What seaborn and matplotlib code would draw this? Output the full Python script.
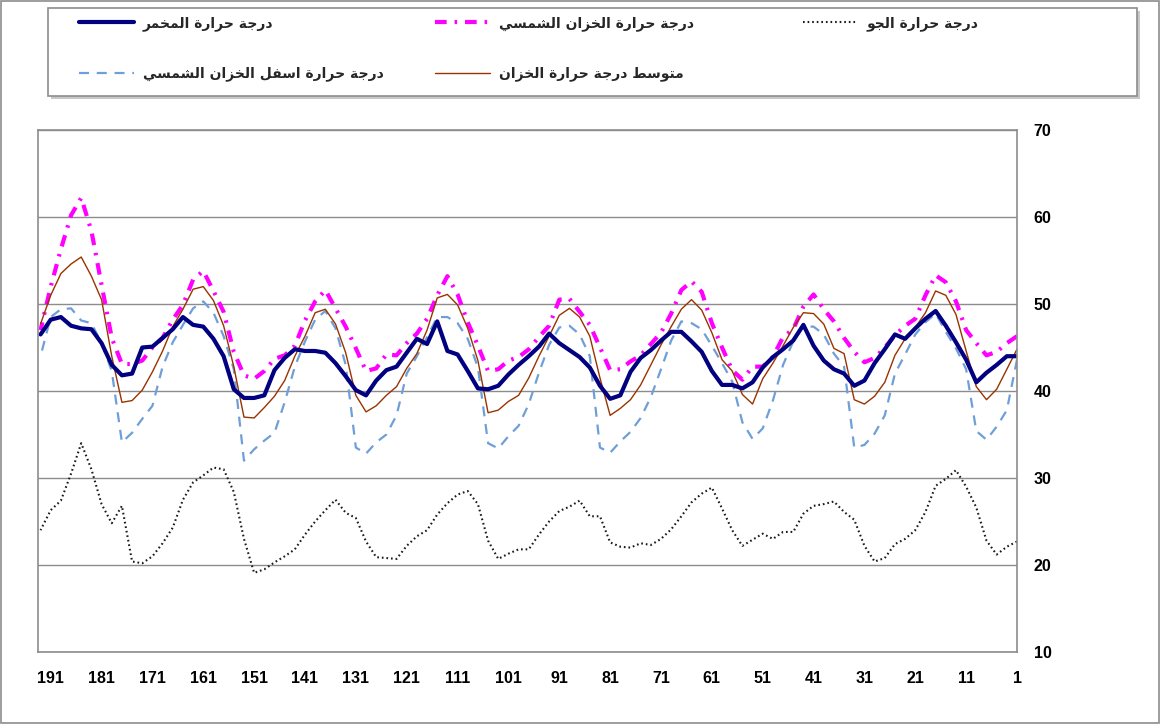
import numpy as np
import pandas as pd
import seaborn as sns
import matplotlib
matplotlib.use("Agg")
import matplotlib.pyplot as plt
from matplotlib.patches import Rectangle

# الايام (من اليسار 193 الى اليمين 1)
days = list(range(193, 0, -2))

t_fermenter = [46.5, 48.2, 48.5, 47.5, 47.2, 47.1, 45.5, 43.0, 41.8, 42.0,
               45.0, 45.1, 46.1, 47.1, 48.5, 47.6, 47.4, 46.0, 44.0, 40.2,
               39.2, 39.2, 39.5, 42.4, 43.8, 44.8, 44.6, 44.6, 44.4, 43.2,
               41.7, 40.1, 39.5, 41.2, 42.4, 42.8, 44.4, 46.0, 45.4, 48.0,
               44.6, 44.2, 42.3, 40.3, 40.2, 40.6, 41.9, 43.0, 44.0, 45.1,
               46.6, 45.5, 44.7, 43.9, 42.7, 40.6, 39.1, 39.5, 42.2, 43.8,
               44.7, 45.8, 46.8, 46.8, 45.7, 44.5, 42.3, 40.7, 40.7, 40.3,
               41.0, 42.7, 43.9, 44.8, 45.8, 47.6, 45.2, 43.5, 42.5, 42.0,
               40.6, 41.2, 43.2, 44.8, 46.5, 46.0, 47.2, 48.3, 49.2, 47.5,
               45.6, 43.6, 41.0, 42.1, 43.0, 44.0, 44.0]

t_solar_tank = [47.0, 52.0, 56.3, 60.2, 62.2, 58.4, 52.2, 46.1, 43.1, 43.1,
                43.5, 45.0, 46.1, 48.2, 49.9, 52.8, 53.8, 51.5, 49.1, 44.5,
                41.8, 41.4, 42.3, 43.7, 44.1, 45.2, 48.1, 50.3, 51.6, 49.5,
                47.4, 44.9, 42.3, 42.6, 44.2, 44.1, 45.5, 46.6, 48.3, 51.0,
                53.2, 51.1, 47.9, 45.2, 42.3, 42.5, 43.5, 43.9, 44.8, 46.2,
                47.5, 50.5, 50.6, 49.1, 47.6, 45.0, 42.4, 42.5, 43.4, 44.1,
                45.4, 46.7, 48.9, 51.6, 52.6, 51.4, 47.8, 45.0, 42.4, 41.3,
                42.8, 42.8, 43.9, 46.2, 47.1, 49.7, 51.1, 49.4, 48.0, 46.1,
                44.5, 43.3, 43.8, 45.0, 46.4, 47.5, 48.3, 51.0, 53.3, 52.5,
                50.3, 47.0, 45.5, 44.1, 44.5, 45.5, 46.3]

t_tank_mean = [47.7, 51.0, 53.5, 54.6, 55.4, 53.2, 50.5, 44.0, 38.7, 38.9,
               40.1, 42.2, 44.6, 47.4, 49.4, 51.7, 52.0, 50.4, 47.5, 42.8,
               37.0, 36.9, 38.1, 39.4, 41.2, 44.0, 46.3, 49.0, 49.4, 47.7,
               44.4, 39.5, 37.6, 38.3, 39.5, 40.5, 42.6, 44.3, 47.0, 50.7,
               51.1, 49.9, 47.2, 43.5, 37.5, 37.8, 38.8, 39.5, 41.5, 44.0,
               46.3, 48.7, 49.5, 48.5, 46.3, 41.5, 37.2, 38.0, 39.0, 40.7,
               43.0, 45.3, 47.4, 49.4, 50.5, 49.3, 46.7, 43.6, 42.3, 39.6,
               38.5, 41.4, 43.2, 45.2, 47.3, 49.0, 48.9, 47.7, 44.9, 44.3,
               39.0, 38.5, 39.4, 41.0, 44.1, 46.0, 47.3, 49.0, 51.5, 51.0,
               48.8, 44.6, 40.5, 39.0, 40.2, 42.5, 44.8]

t_tank_bottom = [44.0, 48.5, 49.4, 49.5, 48.1, 47.8, 45.5, 42.3, 34.1, 35.2,
                 36.8, 38.3, 42.8, 45.6, 47.6, 49.5, 50.3, 49.0, 46.3, 42.5,
                 32.0, 33.3, 34.3, 35.2, 38.7, 42.8, 45.7, 48.2, 49.2, 47.2,
                 43.0, 33.5, 32.8, 34.1, 35.0, 37.2, 42.0, 44.0, 46.2, 48.5,
                 48.5, 47.8, 46.0, 42.7, 34.0, 33.4, 34.8, 36.0, 38.5, 42.1,
                 45.3, 47.3, 47.5, 46.5, 44.0, 33.5, 32.9, 34.2, 35.3, 36.9,
                 39.3, 42.5, 45.8, 48.0, 47.8, 47.1, 45.2, 43.2, 41.1, 36.4,
                 34.5, 35.7, 38.9, 43.0, 45.7, 47.4, 47.4, 46.5, 44.3, 42.8,
                 33.5, 33.8, 35.1, 37.2, 42.0, 44.2, 46.5, 47.9, 48.9, 46.8,
                 44.9, 42.5, 35.4, 34.4, 35.9, 37.8, 43.6]

t_air = [24.0, 26.3, 27.4, 30.5, 34.0, 31.0, 27.0, 24.8, 26.8, 20.4,
         20.2, 21.0, 22.5, 24.3, 27.5, 29.5, 30.3, 31.2, 31.0, 28.4,
         23.0, 19.1, 19.5, 20.3, 21.0, 21.8, 23.5, 25.0, 26.3, 27.5,
         26.0, 25.4, 22.7, 20.9, 20.8, 20.7, 22.2, 23.3, 24.0, 25.8,
         27.1, 28.1, 28.5, 27.0, 22.8, 20.7, 21.3, 21.8, 21.8, 23.5,
         25.0, 26.2, 26.7, 27.4, 25.6, 25.6, 22.6, 22.1, 22.0, 22.5,
         22.3, 23.0, 24.1, 25.6, 27.2, 28.2, 28.9, 26.5, 24.0, 22.2,
         22.9, 23.6, 23.0, 23.8, 23.8, 25.9, 26.8, 27.0, 27.3, 26.1,
         25.2, 22.2, 20.4, 20.8, 22.4, 23.0, 24.0, 26.1, 29.1, 29.9,
         30.9, 29.0, 26.6, 22.8, 21.2, 22.1, 22.7]

lbl_fermenter = "درجة حرارة المخمر"
lbl_solar = "درجة حرارة الخزان الشمسي"
lbl_air = "درجة حرارة الجو"
lbl_bottom = "درجة حرارة اسفل الخزان الشمسي"
lbl_mean = "متوسط درجة حرارة الخزان"

x_ticks = list(range(191, 0, -10))
y_ticks = [10, 20, 30, 40, 50, 60, 70]

# matplotlib لا يقوم بوصل الحروف العربية، نستعمل اشكال العرض يدويا
# (isolated, final, initial, medial)
FORMS = {
    'ا': ('\uFE8D', '\uFE8E', None, None),
    'ة': ('\uFE93', '\uFE94', None, None),
    'ت': ('\uFE95', '\uFE96', '\uFE97', '\uFE98'),
    'ج': ('\uFE9D', '\uFE9E', '\uFE9F', '\uFEA0'),
    'ح': ('\uFEA1', '\uFEA2', '\uFEA3', '\uFEA4'),
    'خ': ('\uFEA5', '\uFEA6', '\uFEA7', '\uFEA8'),
    'د': ('\uFEA9', '\uFEAA', None, None),
    'ر': ('\uFEAD', '\uFEAE', None, None),
    'ز': ('\uFEAF', '\uFEB0', None, None),
    'س': ('\uFEB1', '\uFEB2', '\uFEB3', '\uFEB4'),
    'ش': ('\uFEB5', '\uFEB6', '\uFEB7', '\uFEB8'),
    'ط': ('\uFEC1', '\uFEC2', '\uFEC3', '\uFEC4'),
    'ف': ('\uFED1', '\uFED2', '\uFED3', '\uFED4'),
    'ل': ('\uFEDD', '\uFEDE', '\uFEDF', '\uFEE0'),
    'م': ('\uFEE1', '\uFEE2', '\uFEE3', '\uFEE4'),
    'ن': ('\uFEE5', '\uFEE6', '\uFEE7', '\uFEE8'),
    'و': ('\uFEED', '\uFEEE', None, None),
    'ي': ('\uFEF1', '\uFEF2', '\uFEF3', '\uFEF4'),
}


def ar(text):
    out = []
    for i, ch in enumerate(text):
        if ch not in FORMS:
            out.append(ch)
            continue
        prev = text[i - 1] if i > 0 else ''
        nxt = text[i + 1] if i + 1 < len(text) else ''
        join_prev = prev in FORMS and FORMS[prev][2] is not None
        join_next = FORMS[ch][2] is not None and nxt in FORMS
        iso, fin, ini, med = FORMS[ch]
        if join_prev and join_next:
            out.append(med)
        elif join_prev:
            out.append(fin)
        elif join_next:
            out.append(ini)
        else:
            out.append(iso)
    return ''.join(reversed(out))


sns.set_style("white")
plt.rcParams['font.family'] = ['DejaVu Sans']

fig = plt.figure(figsize=(11.61, 7.24), dpi=100)
ax = fig.add_axes([38 / 1161, 1 - 652 / 724, (1017 - 38) / 1161, (652 - 130) / 724])

sns.lineplot(x=days, y=t_air, ax=ax, color="#1a1a1a", lw=1.5, label=ar(lbl_air))
ax.lines[-1].set_dashes([0.8, 1.4])
sns.lineplot(x=days, y=t_tank_bottom, ax=ax, color="#6f9fd8", lw=1.6, label=ar(lbl_bottom))
ax.lines[-1].set_dashes([4.5, 3.5])
sns.lineplot(x=days, y=t_solar_tank, ax=ax, color="#ff00ff", lw=3.0, label=ar(lbl_solar))
ax.lines[-1].set_dashes([2.8, 1.9, 0.6, 1.9])
sns.lineplot(x=days, y=t_tank_mean, ax=ax, color="#993300", lw=1.0, label=ar(lbl_mean))
sns.lineplot(x=days, y=t_fermenter, ax=ax, color="#000080", lw=3.0, label=ar(lbl_fermenter))

handles, labels = ax.get_legend_handles_labels()
ax.get_legend().remove()
by_label = dict(zip(labels, handles))

ax.set_xlim(193.5, 1)
ax.set_ylim(10, 70)
ax.set_xticks(x_ticks)
ax.set_yticks(y_ticks)
ax.yaxis.tick_right()
ax.grid(axis='y', color="#8c8c8c", lw=1.0)
ax.grid(axis='x', visible=False)
for s in ax.spines.values():
    s.set_color("#8c8c8c")
    s.set_linewidth(1.2)
ax.tick_params(axis='both', length=0, labelsize=11.5, colors='black')
ax.tick_params(axis='x', pad=14)
ax.tick_params(axis='y', pad=12)
for t in ax.get_xticklabels() + ax.get_yticklabels():
    t.set_fontfamily(['Liberation Sans', 'DejaVu Sans'])
    t.set_fontweight('bold')
ax.set_xlabel("")
ax.set_ylabel("")

# إطار الرسم الخارجي وإطار وسيلة الإيضاح مع ظل خفيف
fig.patches.append(Rectangle((0.001, 0.002), 0.997, 0.996, transform=fig.transFigure,
                             fill=False, edgecolor="#8c8c8c", lw=1.2))
fig.patches.append(Rectangle((51 / 1161, 1 - 99 / 724), (1137 - 48) / 1161, 88 / 724,
                             transform=fig.transFigure, facecolor="#c8c8c8", edgecolor="none"))
fig.patches.append(Rectangle((48 / 1161, 1 - 96 / 724), (1137 - 48) / 1161, 88 / 724,
                             transform=fig.transFigure, facecolor="white", edgecolor="#8c8c8c", lw=1.2))

# ثلاثة أعمدة لوسيلة الإيضاح
legend_cols = [
    (76, [lbl_fermenter, lbl_bottom]),
    (432, [lbl_solar, lbl_mean]),
    (800, [lbl_air]),
]
for x_px, names in legend_cols:
    keys = [ar(n) for n in names]
    fig.legend([by_label[k] for k in keys], keys, loc='upper left',
               bbox_to_anchor=(x_px / 1161, 1 - 13 / 724), frameon=False,
               prop={'family': 'DejaVu Sans', 'weight': 'bold', 'size': 10},
               handlelength=4.0, handletextpad=0.6,
               labelspacing=2.6, borderaxespad=0, borderpad=0.2)

fig.savefig("out.png", dpi=100)
